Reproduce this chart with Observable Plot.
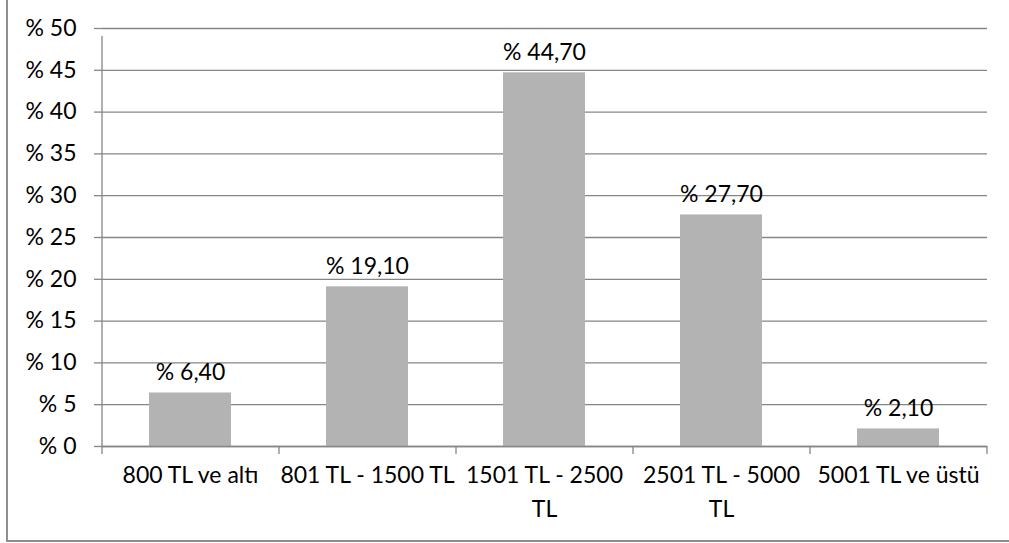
<!DOCTYPE html>
<html>
<head>
<meta charset="utf-8">
<script src="https://cdn.jsdelivr.net/npm/d3@7"></script>
<script src="https://cdn.jsdelivr.net/npm/@observablehq/plot@0.6"></script>
<style>
  html, body { margin: 0; padding: 0; background: #fff; overflow: hidden; }
  #wrap { position: relative; width: 1009px; height: 543px; }
  #border { position: absolute; left: 6px; top: 0; width: 1003px; height: 540px;
            border-left: 2px solid #8f8f8f; border-bottom: 2px solid #8f8f8f; pointer-events: none; }
  svg { display: block; }
</style>
</head>
<body>
<div id="wrap"><div id="border"></div></div>
<script>
const categories = ["800 TL ve altı", "801 TL - 1500 TL", "1501 TL - 2500 TL", "2501 TL - 5000 TL", "5001 TL ve üstü"];
const tickLabels = ["800 TL ve altı", "801 TL - 1500 TL", "1501 TL - 2500\nTL", "2501 TL - 5000\nTL", "5001 TL ve üstü"];
const values = [6.4, 19.1, 44.7, 27.7, 2.1];
const yTicks = [0, 5, 10, 15, 20, 25, 30, 35, 40, 45, 50];

const data = categories.map((c, i) => ({category: c, value: values[i]}));

const W = 1009, H = 543, mL = 102, mR = 22, mT = 28, mB = 97;
const step = (W - mL - mR) / categories.length;
const gray = "#868686";
const font = "Lato, 'Open Sans', sans-serif";

const chart = Plot.plot({
  width: W, height: H,
  marginLeft: mL, marginRight: mR, marginTop: mT, marginBottom: mB,
  style: {fontFamily: font, fontSize: "23px", color: "#000", background: "transparent"},
  x: {domain: categories, paddingInner: 0.536, paddingOuter: 0.268, axis: null},
  y: {domain: [0, 50], axis: null},
  marks: [
    Plot.gridY(yTicks, {stroke: gray, strokeOpacity: 1, strokeWidth: 1.3}),
    Plot.barY(data, {x: "category", y: "value", fill: "#b3b3b3"}),
    Plot.ruleY([0], {stroke: gray, strokeWidth: 1.3}),
    Plot.ruleX([categories[0]], {x: d => d, y1: 0, y2: 50, dx: -step / 2, stroke: gray, strokeWidth: 1.3, insetBottom: -8}),
    Plot.ruleX(categories, {x: d => d, y1: 0, y2: 0, dx: -step / 2, insetBottom: -8, stroke: gray, strokeWidth: 1.3}),
    Plot.ruleX([categories[categories.length - 1]], {x: d => d, y1: 0, y2: 0, dx: step / 2, insetBottom: -8, stroke: gray, strokeWidth: 1.3}),
    Plot.axisY({ticks: yTicks, tickFormat: d => "% " + d, tickSize: 8, tickPadding: 18, stroke: gray, strokeWidth: 1.3, fontSize: 23, fill: "#000", label: null}),
    Plot.axisX({tickSize: 0, tickPadding: 12, tickFormat: (d, i) => tickLabels[categories.indexOf(d)], fontSize: 23, fill: "#000", lineHeight: 1.48, label: null}),
    Plot.text(data, {x: "category", y: "value", text: d => "% " + d.value.toFixed(2).replace(".", ","), lineAnchor: "bottom", dy: -13, fontSize: 23, fill: "#000"})
  ]
});
document.getElementById("wrap").prepend(chart);
</script>
</body>
</html>
